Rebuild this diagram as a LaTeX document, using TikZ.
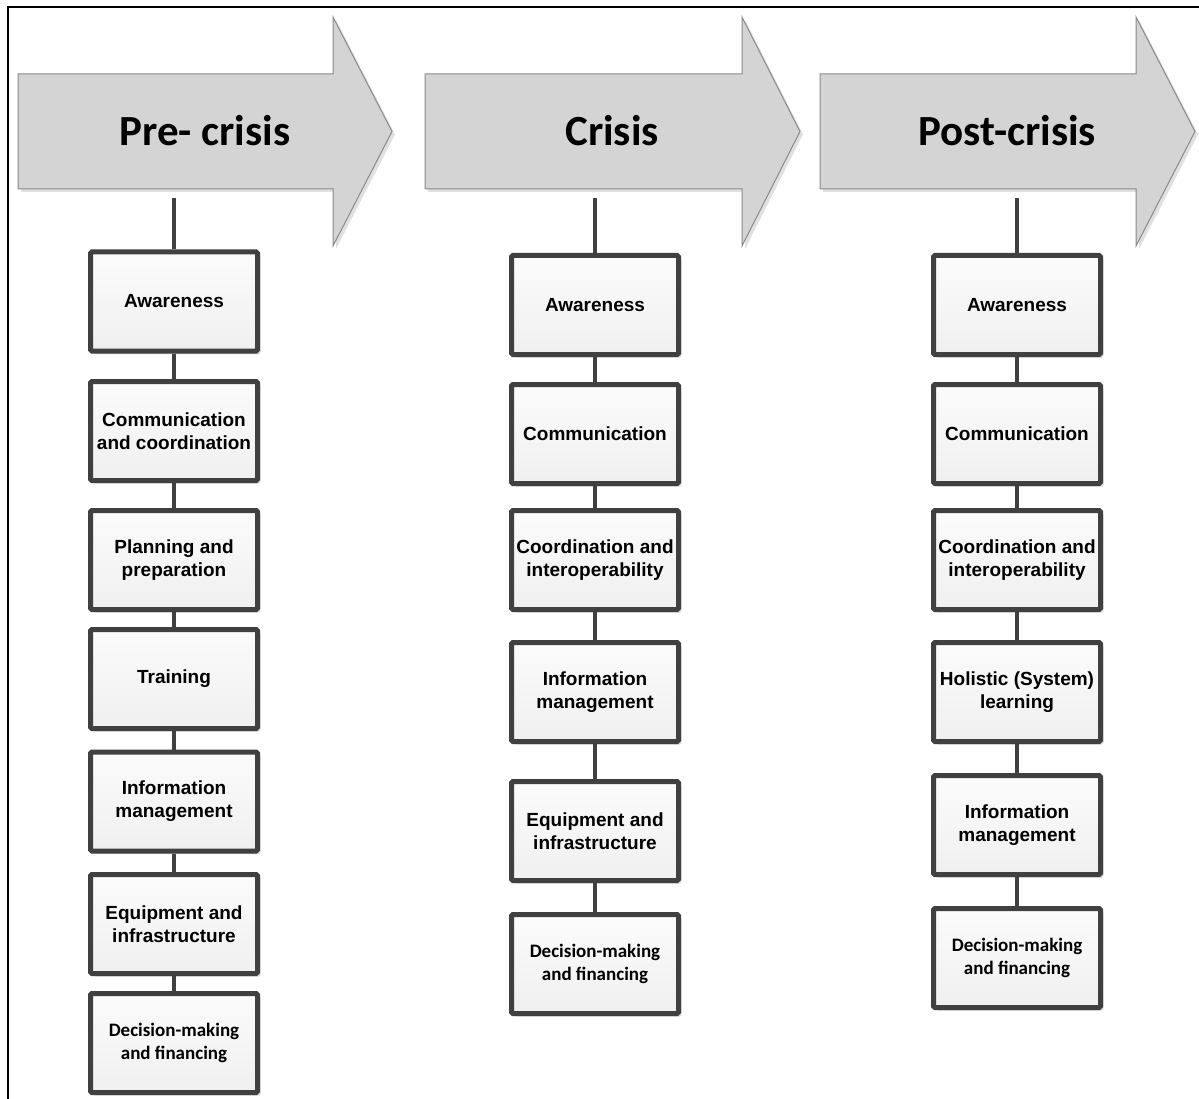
\documentclass[tikz,border=0pt]{standalone}
\usepackage{fontspec}
\usetikzlibrary{shadows}
\newfontfamily\arialf{Liberation Sans}
\newfontfamily\calf{Carlito}
\definecolor{boxline}{HTML}{404040}
\definecolor{arrowfill}{HTML}{D4D4D4}
\definecolor{arrowline}{HTML}{8A8A8A}
\begin{document}
\begin{tikzpicture}[x=1pt,y=-1pt,
  item/.style={draw=boxline, line width=5pt, minimum width=167pt, minimum height=99pt,
    rounded corners=1.5pt,
    top color=gray!3, bottom color=gray!12, align=center, inner sep=2pt,
    font=\arialf\bfseries\fontsize{19}{23}\selectfont,
    drop shadow={shadow xshift=3pt, shadow yshift=-3pt, fill=gray!45, opacity=0.6}},
  itemc/.style={item, font=\calf\bfseries\fontsize{19}{23}\selectfont},
  link/.style={draw=boxline, line width=4.5pt},
  phase/.style={font=\calf\bfseries\fontsize{43}{48}\selectfont, text=black},
  arrowshape/.style={fill=arrowfill, draw=arrowline, line width=1pt}
]
\useasboundingbox (0,0) rectangle (1199,1099);
\fill[white] (0,0) rectangle (1199,1099);
% frame
\draw[line width=1.5pt, black] (8,1099) -- (8,7) -- (1199,7);

% phase arrows
\foreach \l/\b/\t in {18/333/392, 425/742/800, 820/1136/1195}{
  \fill[gray!40, opacity=0.6] (\l+3,77) -- (\b+3,77) -- (\b+3,20) -- (\t+3,134.5) -- (\b+3,249) -- (\b+3,192) -- (\l+3,192) -- cycle;
  \draw[arrowshape] (\l,74) -- (\b,74) -- (\b,17) -- (\t,131.5) -- (\b,246) -- (\b,189) -- (\l,189) -- cycle;
}
\node[phase] (p1) at (205,131) {Pre- crisis};
\node[phase] (p2) at (612,131) {Crisis};
\node[phase] (p3) at (1007,131) {Post-crisis};

\coordinate (s1) at (174,198);
\coordinate (s2) at (595,198);
\coordinate (s3) at (1017,198);

% column 1
\node[item] (a1) at (174,301.5) {Awareness};
\node[item] (a2) at (174,431) {Communication\\and coordination};
\node[item] (a3) at (174,560) {Planning and\\preparation};
\node[item] (a4) at (174,679) {Training};
\node[item] (a5) at (174,801.5) {Information\\management};
\node[item] (a6) at (174,924) {Equipment and\\infrastructure};
\node[itemc] (a7) at (174,1043) {Decision-making\\and financing};

% column 2
\node[item] (b1) at (595,305) {Awareness};
\node[item] (b2) at (595,434) {Communication};
\node[item] (b3) at (595,560) {Coordination and\\interoperability};
\node[item] (b4) at (595,692) {Information\\management};
\node[item] (b5) at (595,831) {Equipment and\\infrastructure};
\node[itemc] (b6) at (595,964) {Decision-making\\and financing};

% column 3
\node[item] (c1) at (1017,305) {Awareness};
\node[item] (c2) at (1017,434) {Communication};
\node[item] (c3) at (1017,560) {Coordination and\\interoperability};
\node[item] (c4) at (1017,692) {Holistic (System)\\learning};
\node[item] (c5) at (1017,825) {Information\\management};
\node[itemc] (c6) at (1017,958) {Decision-making\\and financing};

% connectors
\draw[link] (s1) -- (a1.north);
\foreach \u/\v in {a1/a2,a2/a3,a3/a4,a4/a5,a5/a6,a6/a7}{\draw[link] (\u.south) -- (\v.north);}
\draw[link] (s2) -- (b1.north);
\foreach \u/\v in {b1/b2,b2/b3,b3/b4,b4/b5,b5/b6}{\draw[link] (\u.south) -- (\v.north);}
\draw[link] (s3) -- (c1.north);
\foreach \u/\v in {c1/c2,c2/c3,c3/c4,c4/c5,c5/c6}{\draw[link] (\u.south) -- (\v.north);}
\end{tikzpicture}
\end{document}
